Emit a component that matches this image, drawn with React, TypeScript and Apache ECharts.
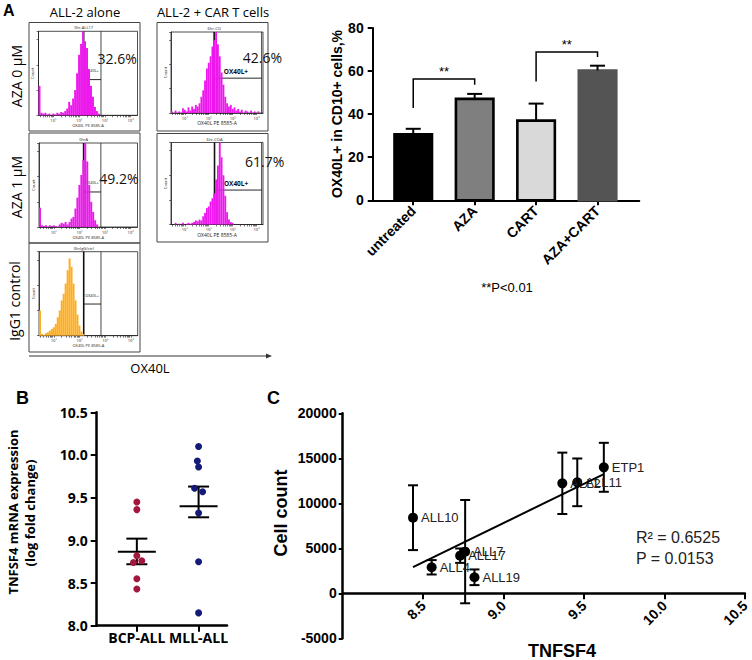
import React, { useEffect, useRef } from "react";
import * as echarts from "echarts";

// ---------------- Panel A : flow histograms (relative counts per bin, 50 bins) ----------------
const histAloneAza0 = [
  0.35, 0.03, 0.02, 0.03, 0.01, 0.02, 0, 0.02, 0.01, 0.03,
  0.02, 0.04, 0.03, 0.05, 0.08, 0.16, 0.12, 0.2, 0.3, 0.5,
  0.72, 0.85, 1.0, 0.88, 0.8, 0.55, 0.35, 0.22, 0.1, 0.05,
  0.02, 0, 0, 0, 0, 0, 0, 0, 0, 0,
  0, 0, 0, 0, 0, 0, 0, 0, 0, 0,
];
const histCarAza0 = [
  0.02, 0, 0.03, 0, 0.02, 0, 0.06, 0.04, 0.02, 0.07,
  0.03, 0.08, 0.05, 0.1, 0.08, 0.12, 0.2, 0.28, 0.4, 0.55,
  0.62, 0.7, 0.82, 0.9, 1.0, 0.85, 0.7, 0.5, 0.35, 0.2,
  0.12, 0.08, 0.1, 0.05, 0.07, 0.03, 0.05, 0.02, 0.04, 0,
  0.03, 0.02, 0, 0.03, 0, 0.02, 0, 0.02, 0, 0,
];
const histAloneAza1 = [
  0.23, 0.02, 0.01, 0.02, 0, 0.02, 0.01, 0.02, 0.01, 0,
  0.03, 0.05, 0.04, 0.06, 0.03, 0.06, 0.1, 0.12, 0.22, 0.35,
  0.5, 0.62, 0.8, 1.0, 0.78, 0.5, 0.3, 0.18, 0.08, 0.03,
  0, 0, 0, 0, 0, 0, 0, 0, 0, 0,
  0, 0, 0, 0, 0, 0, 0, 0, 0, 0,
];
const histCarAza1 = [
  0, 0, 0.02, 0, 0.01, 0, 0.02, 0, 0.01, 0.02,
  0.01, 0.02, 0.03, 0.05, 0.04, 0.06, 0.05, 0.1, 0.14, 0.2,
  0.22, 0.28, 0.32, 0.38, 0.55, 0.72, 1.0, 0.82, 0.6, 0.35,
  0.15, 0.06, 0.03, 0.02, 0, 0, 0, 0, 0, 0,
  0, 0, 0, 0, 0, 0, 0, 0, 0, 0,
];
const histIgG1 = [
  0.3, 0.02, 0.01, 0.03, 0.04, 0.06, 0.08, 0.1, 0.14, 0.22,
  0.3, 0.42, 0.5, 0.62, 0.78, 0.92, 0.82, 0.62, 0.42, 0.25,
  0.12, 0.05, 0.02, 0, 0, 0, 0, 0, 0, 0,
  0, 0, 0, 0, 0, 0, 0, 0, 0, 0,
  0, 0, 0, 0, 0, 0, 0, 0, 0, 0,
];
const flowHists = [histAloneAza0, histCarAza0, histAloneAza1, histCarAza1, histIgG1];
const gateLeft = [0.456, 0.469, 0.453, 0.473, 0.453];
const gateRight = [0.631, 0.985, 0.628, 0.985, 0.628];
const gateLevel = [0.425, 0.43, 0.417, 0.42, 0.377];
const gatePercents = ["32.6%", "42.6%", "49.2%", "61.7%", ""];
const sampleNames = ["0hr-ALL17", "6hr-CO", "0hrA", "6hr-COA", "0hrIgG/ctrl"];
const flowDecadePositions = [0.15, 0.41, 0.67, 0.93];
const flowDecadeLabels = ["10¹", "10²", "10³", "10⁴"];
const columnTitles = ["ALL-2 alone", "ALL-2 + CAR T cells"];
const rowTitles = ["AZA 0 µM", "AZA 1 µM", "IgG1 control"];

// ---------------- Panel A : bar chart (categories at positions 1..4) ----------------
const barCategories = ["untreated", "AZA", "CART", "AZA+CART"];
const barPositions = [1, 2, 3, 4];
const barValues = [30.7, 47.1, 37.0, 60.3];
const barErrors = [2.5, 2.3, 7.9, 2.2];
const bracketFrom = [1, 3];
const bracketTo = [2, 4];
const bracketLeftBottom = [42.9, 55.2];
const bracketRightBottom = [53.6, 66.5];
const bracketTop = [56.3, 68.8];
const bracketText = ["**", "**"];

// ---------------- Panel B (groups at positions 1, 2) ----------------
const groupNames = ["BCP-ALL", "MLL-ALL"];
const groupPositions = [1, 2];
const bcpValues = [9.45, 9.36, 8.82, 8.74, 8.76, 8.55, 8.43];
const bcpXOffsets = [0, 0, 0, -0.055, 0.08, 0, 0];
const mllValues = [10.1, 9.93, 9.86, 9.61, 9.57, 9.32, 8.75, 8.15];
const mllXOffsets = [0, -0.02, 0, -0.065, 0.065, 0, 0, 0];
const groupMeans = [8.867, 9.398];
const groupSemHigh = [9.02, 9.63];
const groupSemLow = [8.72, 9.27];

// ---------------- Panel C ----------------
const cellNames = ["ALL10", "ALL4", "ALL17", "ALL7", "ALL19", "ALL2", "ALL11", "ETP1"];
const cellTnfsf4 = [8.437, 8.553, 8.73, 8.761, 8.819, 9.365, 9.458, 9.623];
const cellCounts = [8400, 2890, 4180, 4630, 1780, 12220, 12330, 14000];
const cellCountErr = [3600, 800, 800, 5740, 870, 3410, 2650, 2720];
const fitX = [8.437, 9.623];
const fitY = [2900, 13250];
const cXTicks = [8.5, 9.0, 9.5, 10.0, 10.5];

// ---------------- layout ----------------
const ARIAL = '"Liberation Sans", Arial, sans-serif';
const OPEN = '"Open Sans", "Noto Sans", sans-serif';

const flowInner = [
  { left: 38.5, top: 31.3, width: 99, height: 84 },
  { left: 171, top: 32, width: 92, height: 81 },
  { left: 39, top: 143, width: 98.5, height: 84 },
  { left: 171, top: 142.5, width: 92, height: 82 },
  { left: 39, top: 251.7, width: 98.7, height: 84 },
];
const flowOuter = [
  { x: 29, y: 22.5, w: 111, h: 108.5 },
  { x: 157, y: 22.5, w: 111, h: 108.5 },
  { x: 29, y: 133, w: 111, h: 110 },
  { x: 157, y: 133.5, w: 111, h: 108.5 },
  { x: 29, y: 243, w: 111, h: 109 },
];
const percentPos = [
  { x: 97.5, y: 58.5 },
  { x: 242.7, y: 57.3 },
  { x: 99.3, y: 178.3 },
  { x: 245, y: 161 },
  { x: 0, y: 0 },
];
// bar chart lives in its own box: page x 330..752, y 0..300
const BAR_BOX = { left: 330, top: 0, width: 422, height: 300 };

function txt(text: string, x: number, y: number, o: any = {}) {
  const align = o.align || "left";
  const va = o.va || "middle";
  return {
    type: "text",
    x,
    y,
    rotation: o.rot || 0,
    silent: true,
    style: {
      text,
      fill: o.color || "#000",
      fontSize: o.size || 12,
      fontFamily: o.family || OPEN,
      fontWeight: o.weight || "normal",
      textAlign: align,
      textVerticalAlign: va,
      align,
      verticalAlign: va,
    },
  };
}

function buildBarOption() {
  const ox = BAR_BOX.left;
  const barFill = ["#000000", "#7f7f7f", "#d9d9d9", "#545454"];
  const barBorder = ["#000000", "#000000", "#000000", "#545454"];
  return {
    animation: false,
    backgroundColor: "transparent",
    grid: [{ left: 372.7 - ox, top: 28, width: 266.6, height: 172.3, containLabel: false }],
    xAxis: [
      {
        type: "value",
        gridIndex: 0,
        min: 0.34,
        max: 4.68,
        splitLine: { show: false },
        axisLine: { show: true, onZero: false, lineStyle: { color: "#000", width: 2 } },
        axisTick: { show: true, customValues: barPositions, length: 5, lineStyle: { color: "#000", width: 2 } },
        axisLabel: {
          customValues: barPositions,
          formatter: (v: number) => barCategories[Math.round(v) - 1] || "",
          rotate: 45,
          fontSize: 14,
          fontWeight: "bold",
          fontFamily: ARIAL,
          color: "#000",
          margin: 8,
        },
      },
    ],
    yAxis: [
      {
        type: "value",
        gridIndex: 0,
        min: 0,
        max: 80,
        interval: 20,
        splitLine: { show: false },
        axisLine: { show: true, onZero: false, lineStyle: { color: "#000", width: 2 } },
        axisTick: { show: true, length: 5, lineStyle: { color: "#000", width: 2 } },
        axisLabel: { fontSize: 14, fontWeight: "bold", fontFamily: ARIAL, color: "#000", margin: 9 },
      },
    ],
    series: [
      {
        type: "custom",
        silent: true,
        data: barValues.map((v, k) => [barPositions[k], v, k]),
        encode: { x: 0, y: 1 },
        renderItem: (_p: any, api: any) => {
          const x = api.value(0);
          const k = api.value(2);
          const top = api.coord([x, api.value(1)]);
          const base = api.coord([x, 0]);
          const w = 37.5;
          return {
            type: "rect",
            shape: { x: top[0] - w / 2, y: top[1], width: w, height: base[1] - top[1] },
            style: { fill: barFill[k], stroke: barBorder[k], lineWidth: 2.6 },
          };
        },
      },
      {
        type: "custom",
        silent: true,
        z: 3,
        data: barValues.map((v, k) => [barPositions[k], v, v + barErrors[k]]),
        encode: { x: 0, y: [1, 2] },
        renderItem: (_p: any, api: any) => {
          const x = api.value(0);
          const a = api.coord([x, api.value(1)]);
          const b = api.coord([x, api.value(2)]);
          return {
            type: "group",
            children: [
              { type: "line", shape: { x1: a[0], y1: a[1], x2: b[0], y2: b[1] }, style: { stroke: "#000", lineWidth: 2 } },
              { type: "line", shape: { x1: b[0] - 7.5, y1: b[1], x2: b[0] + 7.5, y2: b[1] }, style: { stroke: "#000", lineWidth: 2 } },
            ],
          };
        },
      },
      {
        type: "custom",
        silent: true,
        data: bracketFrom.map((f, k) => [f, bracketTo[k], bracketLeftBottom[k], bracketRightBottom[k], bracketTop[k], k]),
        encode: { x: [0, 1], y: [2, 3, 4] },
        renderItem: (_p: any, api: any) => {
          const f = api.value(0), t = api.value(1);
          const p1 = api.coord([f, api.value(2)]);
          const p2 = api.coord([f, api.value(4)]);
          const p3 = api.coord([t, api.value(4)]);
          const p4 = api.coord([t, api.value(3)]);
          const k = api.value(5);
          return {
            type: "group",
            children: [
              { type: "polyline", shape: { points: [p1, p2, p3, p4] }, style: { stroke: "#000", lineWidth: 1.5, fill: "none" } },
              {
                type: "text",
                style: {
                  text: bracketText[k],
                  x: (p2[0] + p3[0]) / 2,
                  y: p2[1] - 1,
                  fill: "#000",
                  fontSize: 13,
                  fontFamily: ARIAL,
                  align: "center",
                  verticalAlign: "bottom",
                },
              },
            ],
          };
        },
      },
    ],
    graphic: {
      elements: [
        txt("OX40L+ in CD10+ cells,%", 337 - ox, 114, { size: 14, weight: "bold", family: ARIAL, align: "center", rot: Math.PI / 2 }),
        txt("**P<0.01", 507 - ox, 287, { size: 13, family: ARIAL, align: "center" }),
      ],
    },
  };
}

function buildMainOption() {
  const grid: any[] = [];
  const xAxis: any[] = [];
  const yAxis: any[] = [];
  const series: any[] = [];
  const graphic: any[] = [];
  const G = { containLabel: false };

  // minor log ticks for flow plots
  const flowTicks: number[] = [];
  const dec = 0.26;
  for (let k = 2; k <= 9; k++) {
    const p = flowDecadePositions[0] - dec + Math.log10(k) * dec;
    if (p >= 0) flowTicks.push(p);
  }
  flowDecadePositions.forEach((d) => {
    for (let k = 1; k <= 9; k++) {
      const p = d + Math.log10(k) * dec;
      if (p <= 1) flowTicks.push(p);
    }
  });

  // ---------- flow panels: grids 0..4, xAxis 0..9, yAxis 0..4 ----------
  flowHists.forEach((h, i) => {
    const g = flowInner[i];
    grid.push({ ...G, ...g, show: true, borderColor: "#222", borderWidth: 0.8, backgroundColor: "#fff" });
    xAxis.push({ type: "category", gridIndex: i, data: h.map((_, k) => String(k)), show: false, position: "bottom" });
    xAxis.push({
      type: "value",
      gridIndex: i,
      min: 0,
      max: 1,
      position: "bottom",
      splitLine: { show: false },
      axisLine: { show: true, onZero: false, lineStyle: { color: "#222", width: 0.8 } },
      axisTick: { show: true, customValues: flowTicks, length: 2, lineStyle: { color: "#222", width: 0.6 } },
      axisLabel: {
        customValues: flowDecadePositions,
        formatter: (v: number) => {
          const idx = flowDecadePositions.findIndex((d) => Math.abs(d - v) < 1e-6);
          return idx >= 0 ? flowDecadeLabels[idx] : "";
        },
        fontSize: 4,
        margin: 3,
        color: "#222",
        fontFamily: OPEN,
      },
    });
    yAxis.push({
      type: "value",
      gridIndex: i,
      min: 0,
      max: 1,
      splitNumber: 4,
      splitLine: { show: false },
      axisLine: { show: true, onZero: false, lineStyle: { color: "#222", width: 0.8 } },
      axisTick: { show: true, length: 2, lineStyle: { color: "#222", width: 0.6 } },
      axisLabel: { show: false },
    });
    series.push({
      type: "bar",
      xAxisIndex: 2 * i,
      yAxisIndex: i,
      data: h,
      barCategoryGap: "0%",
      barGap: "0%",
      silent: true,
      itemStyle: { color: i === 4 ? "#ffad1c" : "#ee18ee" },
    });
    const wide = gateRight[i] - gateLeft[i] > 0.3;
    series.push({
      type: "custom",
      xAxisIndex: 2 * i + 1,
      yAxisIndex: i,
      silent: true,
      data: [[gateLeft[i], gateRight[i], gateLevel[i]]],
      encode: { x: [0, 1], y: 2 },
      renderItem: (_p: any, api: any) => {
        const l = api.value(0), r = api.value(1), lv = api.value(2);
        const b0 = api.coord([l, 0]), t0 = api.coord([l, 1]);
        const b1 = api.coord([r, 0]), t1 = api.coord([r, 1]);
        const m0 = api.coord([l, lv]), m1 = api.coord([r, lv]);
        return {
          type: "group",
          children: [
            { type: "line", shape: { x1: b0[0], y1: b0[1], x2: t0[0], y2: t0[1] }, style: { stroke: "#111", lineWidth: 1.6 } },
            { type: "line", shape: { x1: b1[0], y1: b1[1], x2: t1[0], y2: t1[1] }, style: { stroke: "#333", lineWidth: 0.9 } },
            { type: "line", shape: { x1: m0[0], y1: m0[1], x2: m1[0], y2: m1[1] }, style: { stroke: "#111", lineWidth: 0.9 } },
            {
              type: "text",
              style: wide
                ? {
                    text: "OX40L+",
                    x: (m0[0] + m1[0]) / 2 - 2,
                    y: m0[1] - 7,
                    fill: "#111",
                    fontSize: 6.5,
                    fontWeight: "bold",
                    fontFamily: OPEN,
                    align: "center",
                    verticalAlign: "middle",
                  }
                : {
                    text: "OX40L+",
                    x: m0[0] + 1.5,
                    y: m0[1] - 9,
                    fill: "#111",
                    fontSize: 3.8,
                    fontFamily: OPEN,
                    align: "left",
                    verticalAlign: "middle",
                  },
            },
          ],
        };
      },
    });

    const o = flowOuter[i];
    graphic.push({
      type: "rect",
      silent: true,
      shape: { x: o.x, y: o.y, width: o.w, height: o.h },
      style: { fill: "none", stroke: "#444", lineWidth: 1 },
    });
    const small = i % 2 === 1 ? 5 : 4;
    graphic.push(txt(sampleNames[i], g.left + gateLeft[i] * g.width, g.top - 1.5, { size: 4, align: "center", va: "bottom", color: "#222" }));
    graphic.push(txt("Count", g.left - 6, g.top + g.height / 2, { size: 4, align: "center", rot: Math.PI / 2, color: "#222" }));
    graphic.push(txt("OX40L PE 8585-A", g.left + g.width / 2, g.top + g.height + 10, { size: small, align: "center", color: "#222" }));
    if (gatePercents[i]) {
      graphic.push(txt(gatePercents[i], percentPos[i].x, percentPos[i].y, { size: 14, family: OPEN, color: "#111" }));
    }
  });

  // ---------- panel B: grid 5, xAxis 10, yAxis 5 ----------
  grid.push({ ...G, left: 96.7, top: 412.3, width: 130.3, height: 213.4 });
  xAxis.push({
    type: "value",
    gridIndex: 5,
    min: 0.35,
    max: 2.46,
    splitLine: { show: false },
    axisLine: { show: true, onZero: false, lineStyle: { color: "#000", width: 2.5 } },
    axisTick: { show: true, customValues: groupPositions, length: 6, lineStyle: { color: "#000", width: 2 } },
    axisLabel: {
      customValues: groupPositions,
      formatter: (v: number) => groupNames[Math.round(v) - 1] || "",
      fontSize: 14,
      fontWeight: "bold",
      fontFamily: OPEN,
      color: "#000",
      margin: 5,
    },
  });
  yAxis.push({
    type: "value",
    gridIndex: 5,
    min: 8,
    max: 10.5,
    interval: 0.5,
    splitLine: { show: false },
    axisLine: { show: true, onZero: false, lineStyle: { color: "#000", width: 2.5 } },
    axisTick: { show: true, length: 6, lineStyle: { color: "#000", width: 2 } },
    axisLabel: {
      formatter: (v: number) => v.toFixed(1),
      fontSize: 14,
      fontWeight: "bold",
      fontFamily: OPEN,
      color: "#000",
      margin: 9,
    },
  });
  series.push({
    type: "custom",
    xAxisIndex: 10,
    yAxisIndex: 5,
    silent: true,
    data: groupMeans.map((m, k) => [groupPositions[k], m, groupSemHigh[k], groupSemLow[k]]),
    encode: { x: 0, y: [1, 2, 3] },
    renderItem: (_p: any, api: any) => {
      const x = api.value(0);
      const m = api.coord([x, api.value(1)]);
      const h = api.coord([x, api.value(2)]);
      const l = api.coord([x, api.value(3)]);
      const st = { stroke: "#000", lineWidth: 2 };
      return {
        type: "group",
        children: [
          { type: "line", shape: { x1: m[0] - 19, y1: m[1], x2: m[0] + 19, y2: m[1] }, style: st },
          { type: "line", shape: { x1: h[0] - 10.5, y1: h[1], x2: h[0] + 10.5, y2: h[1] }, style: st },
          { type: "line", shape: { x1: l[0] - 10.5, y1: l[1], x2: l[0] + 10.5, y2: l[1] }, style: st },
          { type: "line", shape: { x1: h[0], y1: h[1], x2: l[0], y2: l[1] }, style: st },
        ],
      };
    },
  });
  series.push({
    type: "scatter",
    xAxisIndex: 10,
    yAxisIndex: 5,
    silent: true,
    symbolSize: 7,
    itemStyle: { color: "#a3173f", opacity: 1 },
    data: bcpValues.map((v, k) => [groupPositions[0] + bcpXOffsets[k], v]),
  });
  series.push({
    type: "scatter",
    xAxisIndex: 10,
    yAxisIndex: 5,
    silent: true,
    symbolSize: 7,
    itemStyle: { color: "#141a78", opacity: 1 },
    data: mllValues.map((v, k) => [groupPositions[1] + mllXOffsets[k], v]),
  });

  // ---------- panel C: grid 6 (0..20000, x axis at y = 0) -> xAxis 11, yAxis 6 ----------
  grid.push({ ...G, left: 342.7, top: 413.3, width: 404, height: 180 });
  xAxis.push({
    type: "value",
    gridIndex: 6,
    min: 8,
    max: 10.5,
    position: "bottom",
    splitLine: { show: false },
    axisLine: { show: true, onZero: false, lineStyle: { color: "#000", width: 2.5 } },
    axisTick: { show: true, customValues: cXTicks, length: 6, lineStyle: { color: "#000", width: 2 } },
    axisLabel: {
      customValues: cXTicks,
      formatter: (v: number) => v.toFixed(1),
      rotate: 45,
      fontSize: 14,
      fontWeight: "bold",
      fontFamily: ARIAL,
      color: "#000",
      margin: 10,
    },
  });
  yAxis.push({
    type: "value",
    gridIndex: 6,
    min: 0,
    max: 20000,
    show: false,
    splitLine: { show: false },
    axisLine: { show: false, onZero: false },
  });
  series.push({
    type: "line",
    xAxisIndex: 11,
    yAxisIndex: 6,
    silent: true,
    symbol: "none",
    lineStyle: { color: "#000", width: 2 },
    data: fitX.map((x, k) => [x, fitY[k]]),
  });
  series.push({
    type: "custom",
    xAxisIndex: 11,
    yAxisIndex: 6,
    silent: true,
    clip: false,
    data: cellTnfsf4.map((x, k) => [x, cellCounts[k] - cellCountErr[k], cellCounts[k] + cellCountErr[k]]),
    encode: { x: 0, y: [1, 2] },
    renderItem: (_p: any, api: any) => {
      const x = api.value(0);
      const lo = api.coord([x, api.value(1)]);
      const hi = api.coord([x, api.value(2)]);
      const st = { stroke: "#000", lineWidth: 2 };
      return {
        type: "group",
        children: [
          { type: "line", shape: { x1: lo[0], y1: lo[1], x2: hi[0], y2: hi[1] }, style: st },
          { type: "line", shape: { x1: hi[0] - 5, y1: hi[1], x2: hi[0] + 5, y2: hi[1] }, style: st },
          { type: "line", shape: { x1: lo[0] - 5, y1: lo[1], x2: lo[0] + 5, y2: lo[1] }, style: st },
        ],
      };
    },
  });
  series.push({
    type: "scatter",
    xAxisIndex: 11,
    yAxisIndex: 6,
    silent: true,
    symbolSize: 10,
    itemStyle: { color: "#000", opacity: 1 },
    label: {
      show: true,
      position: "right",
      distance: 3,
      formatter: "{b}",
      fontSize: 13,
      fontFamily: ARIAL,
      color: "#222",
    },
    data: cellTnfsf4.map((x, k) => ({ name: cellNames[k], value: [x, cellCounts[k]] })),
  });

  // ---------- panel C: grid 7 (full -5000..20000 range, y axis) -> xAxis 12, yAxis 7 ----------
  grid.push({ ...G, left: 342.7, top: 413.3, width: 404, height: 225 });
  xAxis.push({
    type: "value",
    gridIndex: 7,
    min: 8,
    max: 10.5,
    show: false,
    splitLine: { show: false },
    axisLine: { show: false, onZero: false },
  });
  yAxis.push({
    type: "value",
    gridIndex: 7,
    min: -5000,
    max: 20000,
    interval: 5000,
    splitLine: { show: false },
    axisLine: { show: true, onZero: false, lineStyle: { color: "#000", width: 2.5 } },
    axisTick: { show: true, length: 4, lineStyle: { color: "#000", width: 2 } },
    axisLabel: {
      formatter: (v: number) => String(v),
      fontSize: 14,
      fontWeight: "bold",
      fontFamily: ARIAL,
      color: "#000",
      margin: 6,
    },
  });

  // ---------- free texts ----------
  graphic.push(txt("A", 3, 10, { size: 16, weight: "bold", family: ARIAL }));
  graphic.push(txt(columnTitles[0], 85, 12, { size: 13, align: "center" }));
  graphic.push(txt(columnTitles[1], 213, 12, { size: 13, align: "center" }));
  graphic.push(txt(rowTitles[0], 16, 76, { size: 14, align: "center", rot: Math.PI / 2 }));
  graphic.push(txt(rowTitles[1], 16, 187, { size: 14, align: "center", rot: Math.PI / 2 }));
  graphic.push(txt(rowTitles[2], 14.5, 301, { size: 14, align: "center", rot: Math.PI / 2 }));
  graphic.push({ type: "line", silent: true, shape: { x1: 29, y1: 356, x2: 269, y2: 356 }, style: { stroke: "#333", lineWidth: 1 } });
  graphic.push({
    type: "polygon",
    silent: true,
    shape: { points: [[266, 353.5], [272, 356], [266, 358.5]] },
    style: { fill: "#333" },
  });
  graphic.push(txt("OX40L", 150, 368, { size: 13, align: "center" }));
  graphic.push(txt("B", 16, 398, { size: 18, weight: "bold", family: ARIAL }));
  graphic.push(txt("C", 267, 398, { size: 18, weight: "bold", family: ARIAL }));
  graphic.push(txt("TNFSF4 mRNA expression", 12.5, 512, { size: 13, weight: "bold", align: "center", rot: Math.PI / 2 }));
  graphic.push(txt("(log fold change)", 30, 513, { size: 13, weight: "bold", align: "center", rot: Math.PI / 2 }));
  graphic.push(txt("Cell count", 281, 513, { size: 18, weight: "bold", family: ARIAL, align: "center", rot: Math.PI / 2 }));
  graphic.push(txt("TNFSF4", 562, 651, { size: 18, weight: "bold", family: ARIAL, align: "center" }));
  graphic.push(txt("R² = 0.6525", 636, 537, { size: 16, family: ARIAL, color: "#222" }));
  graphic.push(txt("P = 0.0153", 636, 558, { size: 16, family: ARIAL, color: "#222" }));

  return {
    animation: false,
    backgroundColor: "#ffffff",
    grid,
    xAxis,
    yAxis,
    series,
    graphic: { elements: graphic },
  };
}

export default function App() {
  const mainRef = useRef<HTMLDivElement>(null);
  const barRef = useRef<HTMLDivElement>(null);
  useEffect(() => {
    document.body.style.margin = "0";
    const main = echarts.init(mainRef.current as HTMLDivElement, null, { renderer: "svg" });
    main.setOption(buildMainOption() as any);
    const bar = echarts.init(barRef.current as HTMLDivElement, null, { renderer: "svg" });
    bar.setOption(buildBarOption() as any);
    return () => {
      bar.dispose();
      main.dispose();
    };
  }, []);
  return (
    <div style={{ position: "relative", width: 752, height: 660, background: "#fff" }}>
      <div ref={mainRef} style={{ position: "absolute", left: 0, top: 0, width: 752, height: 660 }} />
      <div
        ref={barRef}
        style={{
          position: "absolute",
          left: BAR_BOX.left,
          top: BAR_BOX.top,
          width: BAR_BOX.width,
          height: BAR_BOX.height,
        }}
      />
    </div>
  );
}
